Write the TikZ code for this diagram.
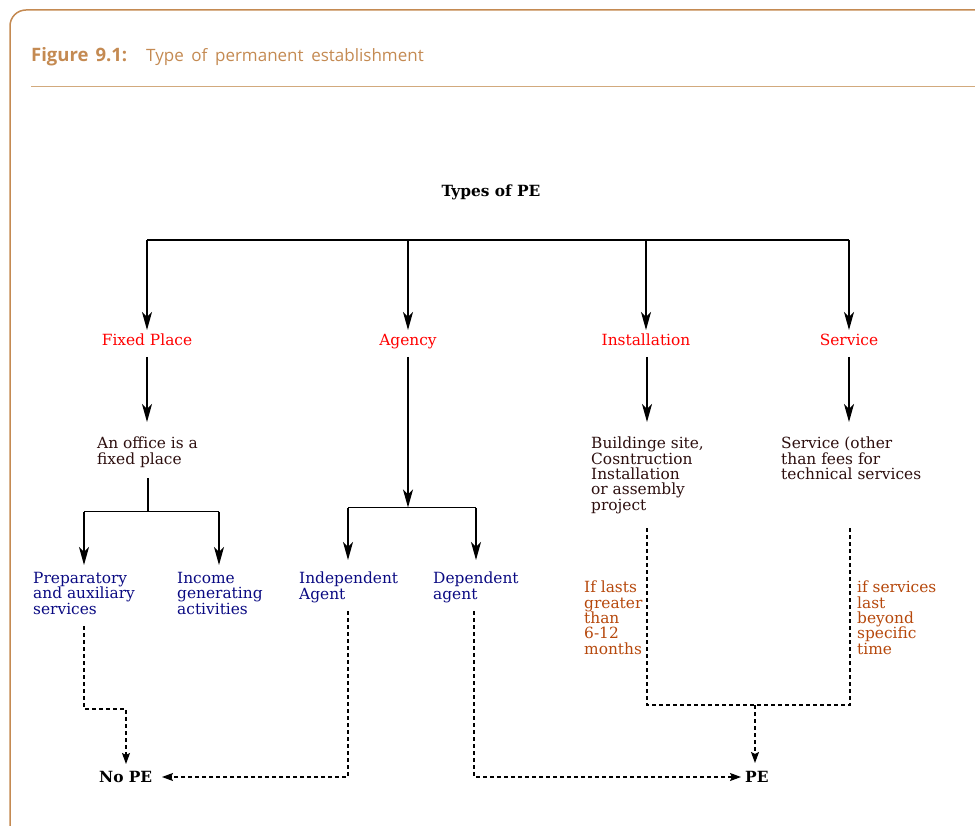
\documentclass[tikz,border=0pt]{standalone}
\usepackage{fontspec}
\usetikzlibrary{arrows.meta}
\setmainfont{DejaVu Serif}
\newfontfamily\headfont{Open Sans}
\definecolor{framecol}{RGB}{196,138,82}
\definecolor{rulecol}{RGB}{210,170,125}
\definecolor{headcol}{RGB}{196,138,82}
\definecolor{catred}{RGB}{255,0,0}
\definecolor{subblue}{RGB}{10,10,130}
\definecolor{condorange}{RGB}{182,72,12}
\definecolor{bodydark}{RGB}{45,15,15}
\newcommand{\bodysize}{\fontsize{15.4}{15.3}\selectfont}
\begin{document}
\begin{tikzpicture}[x=1pt,y=-1pt,
  txt/.style={inner sep=0pt,anchor=north west,align=left,font=\bodysize},
  cat/.style={inner sep=0pt,anchor=base,font=\bodysize,text=catred},
  desc/.style={txt,text=bodydark},
  sub/.style={txt,text=subblue},
  cond/.style={txt,text=condorange},
  result/.style={inner sep=0pt,anchor=base west,font=\bodysize\bfseries,text=black},
  plain/.style={draw=black,line width=1.2pt},
  solidarrow/.style={plain,-{Stealth[length=18pt,width=10pt,inset=5pt]}},
  dashline/.style={draw=black,line width=1.1pt,dash pattern=on 4pt off 3pt},
  dasharrow/.style={dashline,-{Stealth[length=11pt,width=8pt,inset=2pt]}}]
\useasboundingbox (0,0) rectangle (975,826);

% frame and caption
\draw[framecol,line width=1.5pt,rounded corners=16pt] (10,840) -- (10,10) -- (990,10);
\draw[rulecol,line width=1pt] (31,87) -- (975,87);
\node[inner sep=0pt,anchor=base west,text=headcol,font=\headfont\fontsize{18.5}{22}\selectfont\bfseries] (fignum) at (31,62) {Figure\hspace{0.38em}9.1:};
\node[inner sep=0pt,anchor=base west,text=headcol,font=\headfont\fontsize{17}{20}\selectfont] (figtitle) at (146,62) {Type\hspace{0.45em}of\hspace{0.45em}permanent\hspace{0.45em}establishment};

% root
\node[result,anchor=base] (types) at (491,197) {Types of PE};

% categories
\node[cat] (fixed) at (147,346) {Fixed Place};
\node[cat] (agency) at (408,345) {Agency};
\node[cat] (install) at (646,346) {Installation};
\node[cat] (service) at (849,346) {Service};

% descriptions
\node[desc] (office) at (97,437) {An office is a\\fixed place};
\node[desc] (building) at (591,437) {Buildinge site,\\Cosntruction\\Installation\\or assembly\\project};
\node[desc] (servdesc) at (781,437) {Service (other\\than fees for\\technical services};

% sub-types
\node[sub] (prep) at (33,572) {Preparatory\\and auxiliary\\services};
\node[sub] (income) at (177,572) {Income\\generating\\activities};
\node[sub] (indep) at (299,572) {Independent\\Agent};
\node[sub] (dep) at (433,572) {Dependent\\agent};

% conditions
\node[cond] (lasts) at (584,581) {If lasts\\greater\\than\\6-12\\months};
\node[cond] (beyond) at (857,581) {if services\\last\\beyond\\specific\\time};

% outcomes
\node[result] (nope) at (99,782) {No PE};
\node[result] (pe) at (745,782) {PE};

% junction points
\coordinate (busL) at (147,240);
\coordinate (busA) at (408,240);
\coordinate (busI) at (646,240);
\coordinate (busR) at (849,240);
\coordinate (fixedIn) at (147,330);
\coordinate (agencyIn) at (408,330);
\coordinate (installIn) at (646,330);
\coordinate (serviceIn) at (849,330);
\coordinate (fixedOut) at (147,357);
\coordinate (agencyOut) at (408,357);
\coordinate (installOut) at (647,357);
\coordinate (serviceOut) at (849,357);
\coordinate (officeIn) at (147,422);
\coordinate (buildIn) at (647,422);
\coordinate (servdescIn) at (849,422);
\coordinate (officeOut) at (148,478);
\coordinate (officeJ) at (148,511.5);
\coordinate (offL) at (84,511.5);
\coordinate (offR) at (219,511.5);
\coordinate (prepIn) at (84,565);
\coordinate (incomeIn) at (219,565);
\coordinate (agJ) at (408,507.5);
\coordinate (agL) at (348,507.5);
\coordinate (agR) at (476,507.5);
\coordinate (indepIn) at (348,560);
\coordinate (depIn) at (476,560);
\coordinate (prepOut) at (84,626);
\coordinate (prepK1) at (84,709);
\coordinate (prepK2) at (126,709);
\coordinate (nopeIn) at (126,764);
\coordinate (indepOut) at (348,611);
\coordinate (indepK) at (348,777);
\coordinate (nopeSide) at (162,777);
\coordinate (depOut) at (474,611);
\coordinate (depK) at (474,777);
\coordinate (peSide) at (741,777);
\coordinate (buildOut) at (647,528);
\coordinate (buildK) at (647,705);
\coordinate (servOut) at (850,527);
\coordinate (servK) at (850,705);
\coordinate (mergeJ) at (755,705);
\coordinate (peIn) at (755,763);

% solid tree
\draw[plain] (busL) -- (busR);
\draw[solidarrow] (busL) -- (fixedIn);
\draw[solidarrow] (busA) -- (agencyIn);
\draw[solidarrow] (busI) -- (installIn);
\draw[solidarrow] (busR) -- (serviceIn);
\draw[solidarrow] (fixedOut) -- (officeIn);
\draw[solidarrow] (agencyOut) -- (agJ);
\draw[solidarrow] (installOut) -- (buildIn);
\draw[solidarrow] (serviceOut) -- (servdescIn);
\draw[plain] (officeOut) -- (officeJ);
\draw[plain] (offL) -- (offR);
\draw[solidarrow] (offL) -- (prepIn);
\draw[solidarrow] (offR) -- (incomeIn);
\draw[plain] (agL) -- (agR);
\draw[solidarrow] (agL) -- (indepIn);
\draw[solidarrow] (agR) -- (depIn);

% dashed outcome paths
\draw[dasharrow] (prepOut) -- (prepK1) -- (prepK2) -- (nopeIn);
\draw[dasharrow] (indepOut) -- (indepK) -- (nopeSide);
\draw[dasharrow] (depOut) -- (depK) -- (peSide);
\draw[dashline] (buildOut) -- (buildK) -- (servK) -- (servOut);
\draw[dasharrow] (mergeJ) -- (peIn);
\end{tikzpicture}
\end{document}
